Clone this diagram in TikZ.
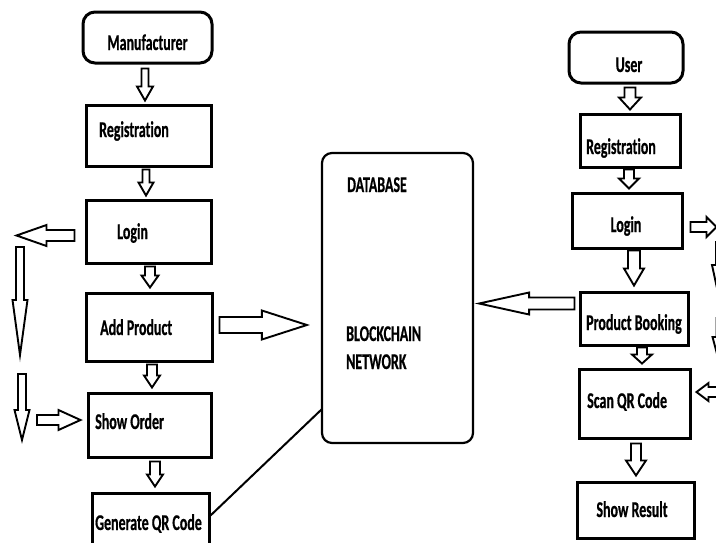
\documentclass[tikz,border=0pt]{standalone}
\usepackage{fontspec}
\newfontfamily\labfont{Carlito}[FakeStretch=0.62, FakeBold=0.6, Ligatures={NoCommon}]
\usetikzlibrary{calc}
\tikzset{
  box/.style={draw, line width=3pt, inner sep=0pt, fill=white},
  term/.style={box, rounded corners=12pt},
  dbbox/.style={draw, line width=2.2pt, inner sep=0pt, rounded corners=10pt},
  txt/.style={inner sep=0pt, font=\labfont\bfseries\fontsize{22.5}{24}\selectfont},
  arrowline/.style={draw=black, fill=white, line width=1.9pt, line join=miter},
  link/.style={draw, line width=2pt}
}
% block arrow: start, end, shaft half width, head half width, head length
\newcommand\barrow[5]{%
  \path #1 coordinate (ba) #2 coordinate (bb);
  \coordinate (bh) at ($(bb)!#5pt!(ba)$);
  \path[arrowline] ($(ba)!#3pt!90:(bb)$) -- ($(bh)!#3pt!90:(bb)$) -- ($(bh)!#4pt!90:(bb)$)
    -- (bb) -- ($(bh)!#4pt!-90:(bb)$) -- ($(bh)!#3pt!-90:(bb)$) -- ($(ba)!#3pt!-90:(bb)$) -- cycle;
}
\begin{document}
\begin{tikzpicture}[x=1pt, y=-1pt]
\useasboundingbox (0,0) rectangle (716,542);
\clip (0,0) rectangle (716,542);
\fill[white] (0,0) rectangle (716,542);

% left column
\node[term, minimum width=129pt, minimum height=51pt] (man) at (147.5,37.5) {};
\node[box, minimum width=125pt, minimum height=61pt] (reg1) at (148.5,135.5) {};
\node[box, minimum width=125pt, minimum height=63pt] (login1) at (148.5,231.5) {};
\node[box, minimum width=126pt, minimum height=68pt] (add) at (149,327) {};
\node[box, minimum width=123pt, minimum height=64pt] (show) at (149.5,425) {};
\node[box, minimum width=117pt, minimum height=70pt] (gen) at (150.5,528) {};

\node[txt, anchor=base] (tman) at (147.5,50) {Manufacturer};
\node[txt, anchor=base west] (treg1) at (99,137) {Registration};
\node[txt, anchor=base west] (tlogin1) at (117,239) {Login};
\node[txt, anchor=base west] (tadd) at (100,335) {Add Product};
\node[txt, anchor=base west] (tshow) at (95,429) {Show Order};
\node[txt, anchor=base west] (tgen) at (95,530) {Generate QR Code};

% database
\node[dbbox, minimum width=151pt, minimum height=290pt] (db) at (397.5,298) {};
\node[txt, anchor=base west] (tdb) at (347,192) {DATABASE};
\node[txt, anchor=base west] (tbc) at (346,341) {BLOCKCHAIN};
\node[txt, anchor=base west] (tnet) at (346,369) {NETWORK};

% right column
\node[term, minimum width=114pt, minimum height=51pt] (user) at (626,57.5) {};
\node[box, minimum width=100pt, minimum height=53pt] (reg2) at (630,140.5) {};
\node[box, minimum width=110pt, minimum height=55pt] (login2) at (627,220.5) {};
\node[box, minimum width=108pt, minimum height=53pt] (pb) at (634,318.5) {};
\node[box, minimum width=111pt, minimum height=69pt] (scan) at (634.5,403.5) {};
\node[box, minimum width=117pt, minimum height=56pt] (result) at (635.5,510) {};

\node[txt, anchor=base] (tuser) at (629,72) {User};
\node[txt, anchor=base west] (treg2) at (586,154) {Registration};
\node[txt, anchor=base] (tlogin2) at (626,232) {Login};
\node[txt, anchor=base west] (tpb) at (586,330) {Product Booking};
\node[txt, anchor=base west] (tscan) at (587,408) {Scan QR Code};
\node[txt, anchor=base] (tres) at (632,517) {Show Result};

% left column arrows
\barrow{($(man.south)+(-2.5,4)$)}{($(reg1.north)+(-3.5,-3)$)}{3.5}{8}{14}
\barrow{($(reg1.south)+(-2.5,2)$)}{($(login1.north)+(-2.5,-3)$)}{3.5}{7.5}{13}
\barrow{($(login1.south)+(1.5,2)$)}{($(add.north)+(1,-4)$)}{5}{8.5}{12}
\barrow{($(add.south)+(3,2)$)}{($(show.north)+(2.5,-4)$)}{5}{8}{12}
\barrow{($(show.south)+(5.5,3)$)}{($(gen.north)+(4.5,-5)$)}{5}{8}{12}

% login (left) side arrows
\barrow{($(login1.west)+(-10,4)$)}{($(login1.west)+(-68,4)$)}{5.5}{10.5}{30}
\coordinate (la1) at (20,247);
\coordinate (lb1) at (20,355);
\barrow{(la1)}{(lb1)}{4}{7.5}{55}
\coordinate (la2) at (22,374);
\coordinate (lb2) at (22,440);
\barrow{(la2)}{(lb2)}{4}{7.5}{30}
\coordinate (la3) at (37,420);
\barrow{(la3)}{($(show.west)+(-6,-5)$)}{5}{10}{22}

% to database
\barrow{($(add.east)+(6,-2)$)}{($(db.west)+(-14,27)$)}{8}{14.5}{45}
\draw[link] ($(gen.north east)+(0,24)$) -- ($(db.south west)+(1,-35)$);
\barrow{($(pb.west)+(-4,-15)$)}{($(db.east)+(5,5.5)$)}{6}{11}{50}

% right column arrows
\barrow{($(user.south)+(4,3)$)}{($(reg2.north)+(0,-3)$)}{5.5}{11}{12}
\barrow{($(reg2.south)+(-1,1)$)}{($(login2.north)+(2,-3)$)}{5}{10}{10}
\barrow{($(login2.south)+(7,1)$)}{($(pb.north)+(0,-5)$)}{6}{10}{17}
\barrow{($(pb.south)+(8,1)$)}{($(scan.north)+(7.5,-4)$)}{5}{10}{9}
\barrow{($(scan.south)+(1.5,4)$)}{($(result.north)+(0.5,-5)$)}{5}{10}{15}

% right side partial arrows
\barrow{($(login2.east)+(7,6.5)$)}{($(login2.east)+(33,6.5)$)}{5}{10}{10}
\coordinate (ra1) at (720,242);
\coordinate (rb1) at (720,302);
\barrow{(ra1)}{(rb1)}{4}{8}{37}
\coordinate (ra2) at (720.5,318);
\coordinate (rb2) at (720.5,367);
\barrow{(ra2)}{(rb2)}{4}{8}{30}
\coordinate (ra3) at (735,392);
\barrow{(ra3)}{($(scan.east)+(5,-11.5)$)}{5}{9}{12}
\end{tikzpicture}
\end{document}
